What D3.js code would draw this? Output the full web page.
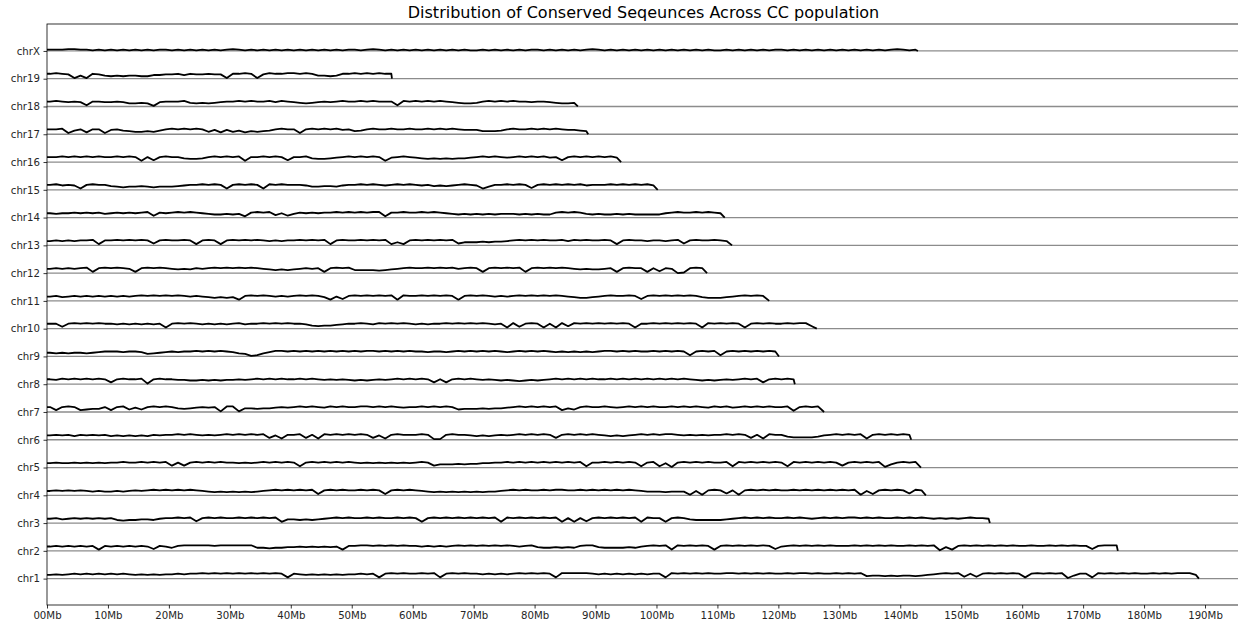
<!DOCTYPE html>
<html>
<head>
<meta charset="utf-8">
<script src="https://cdn.jsdelivr.net/npm/d3@7"></script>
<style>
  body { margin: 0; background: #fff; }
  svg { display: block; }
  text { font-family: "DejaVu Sans", sans-serif; }
</style>
</head>
<body>
<svg id="chart" width="1238" height="627"></svg>
<script>
// Chromosomes, bottom to top
const chromosomes = ["chr1", "chr2", "chr3", "chr4", "chr5", "chr6", "chr7", "chr8", "chr9", "chr10",
  "chr11", "chr12", "chr13", "chr14", "chr15", "chr16", "chr17", "chr18", "chr19", "chrX"];

// Length of each chromosome (Mb), same order
const lengthsMb = [189.0, 175.7, 154.7, 144.2, 143.4, 141.8, 127.5, 122.7, 120.1, 126.3,
  118.5, 108.3, 112.4, 111.2, 100.2, 94.2, 88.8, 87.1, 56.6, 142.9];

// X axis ticks (Mb) and their labels
const xTicks = [0, 10, 20, 30, 40, 50, 60, 70, 80, 90, 100, 110, 120, 130, 140, 150, 160, 170, 180, 190];
const xTickLabels = ["00Mb", "10Mb", "20Mb", "30Mb", "40Mb", "50Mb", "60Mb", "70Mb", "80Mb", "90Mb",
  "100Mb", "110Mb", "120Mb", "130Mb", "140Mb", "150Mb", "160Mb", "170Mb", "180Mb", "190Mb"];

// Conserved share per 1 Mb bin, one digit per bin (0 = none, 9 = all strains), same order
const conservedBins = [
  /* chr1 */ "6767878787 8787676767 7878898989 8989898982 8767676767 7878289898 8989289898 8787878989 8982999998 7878787878 8298989898 8998989898 8989989889 8989455454 5545678989 3838989898 2898989158 8298989898 898989996",
  /* chr2 */ "7878787828 7878787387 5899999899 9999554556 6767676728 8998989898 8787878989 8989898789 6556565899 6555565789 8929898982 8989898983 7898989898 8898989898 8989891628 9898989898 8988989898 838999",
  /* chr3 */ "7867878787 8545566578 8989389898 8989898926 6565678989 8898988989 8289898989 8989298989 8989282838 9898989298 8289865555 5678989898 8989878989 8998989889 8989878787 89887",
  /* chr4 */ "7878787676 6767878989 8989876565 6565678989 8989289898 8989828989 8765656565 6566789898 8989988989 8989898766 6566617189 8381898989 8898989898 9891728989 8398",
  /* chr5 */ "7877878787 8898898989 3838989898 8787898989 8289898989 8787878787 8983555656 6778898989 8989898928 8989898289 2718989898 8929898989 8298989898 3898989158 989",
  /* chr6 */ "7878687878 6767676878 8989878789 8989893728 8938298989 8983728988 8981189887 6767878989 8983898989 8767678989 8998787878 8989838298 8544445789 8989289898 98",
  /* chr7 */ "8389834558 3894748989 8656787819 9166566787 8989879898 8998989878 8989898455 5656678989 8989364898 8987898989 8898989879 8978989898 8928989",
  /* chr8 */ "8798989898 3898891898 8776676767 7878989898 8989878787 6767878989 8983838989 8787676567 6789898989 8898989898 9898987676 7878989389 898",
  /* chr9 */ "6565665678 8878874567 8788989898 7541257998 9898989898 9899898989 8878878989 8989878989 8987878787 8998989889 8989828989 2898989898",
  /* chr10 */ "8838989898 8787878782 8989878787 8978898989 8875455678 8987989898 7878898989 8987829389 8282949898 9898982889 8989898298 9898289898 898994",
  /* chr11 */ "7867878787 8787898989 8987876565 6289898787 8989862738 9898989298 8989898289 8987878989 8989876556 7898898389 8989898655 56789898",
  /* chr12 */ "7878789289 8987289898 7676878989 8989876565 6787828989 5555456789 8898989789 8289898928 9898987676 6782898828 38701898",
  /* chr13 */ "7878788928 8989898389 8898289828 9898987878 8989892898 8989892528 9898989355 5656678989 8988979898 8982898878 878938988987",
  /* chr14 */ "7677878786 7878789387 8989876556 5628989473 6878788989 8989928898 8989876565 6565666565 6558989865 6556565555 57898898987",
  /* chr15 */ "8978728988 6545565455 5678898982 8989829898 8875566578 8989878989 8786767898 7258898983 8989898978 8898989897",
  /* chr16 */ "8898989898 8989828389 8865568989 8928898983 8896556789 8989827898 7656565667 8989878989 8978389898 9897",
  /* chr17 */ "8892683882 7865445468 9898984737 4635456898 8289898978 5689889889 8898989877 7555689889 898987765",
  /* chr18 */ "8987872887 7875565178 8896565678 8989889798 7656787898 8989888298 9898987655 6898989887 8876556",
  /* chr19 */ "8987151875 4545544667 7868778771 8898179889 9898554588 9898988",
  /* chrX */ "2223322121 2121212122 1212121212 3212121212 1212121212 2123212121 2121212121 1212121212 2121212123 2121212121 2121212121 1212121212 2121212121 2121212123 212"
];

const width = 1238, height = 627;
const margin = { top: 24, right: -2, bottom: 22, left: 47 };
const plotBottom = height - margin.bottom;   // 605
const plotRight = width - margin.right;      // spine sits just past the edge

const svg = d3.select("#chart");

const x = d3.scaleLinear().domain([0, 190]).range([margin.left, 1205]);
const y = d3.scaleLinear().domain([0.05, 20.97]).range([plotBottom, margin.top]);
const traceHeight = 0.2;   // row units taken by a fully conserved bin

// Baseline for every chromosome across the whole axis
svg.append("g")
  .selectAll("line")
  .data(chromosomes)
  .join("line")
  .attr("x1", margin.left)
  .attr("x2", plotRight)
  .attr("y1", (d, i) => y(i + 1))
  .attr("y2", (d, i) => y(i + 1))
  .attr("stroke", "#8c8c8c")
  .attr("stroke-width", 1.3);

// Conservation trace per chromosome
const tracks = chromosomes.map((name, i) => {
  const digits = conservedBins[i].replace(/\s/g, "").split("").map(Number);
  const pts = [{ mb: 0, v: digits[0] / 9 }];
  digits.forEach((d, k) => pts.push({ mb: Math.min(k + 0.5, lengthsMb[i]), v: d / 9 }));
  pts.push({ mb: lengthsMb[i], v: 0 });
  return { name, row: i + 1, pts };
});

const line = d3.line();
svg.append("g")
  .selectAll("path")
  .data(tracks)
  .join("path")
  .attr("d", t => line(t.pts.map(p => [x(p.mb), y(t.row + p.v * traceHeight)])))
  .attr("fill", "none")
  .attr("stroke", "#000")
  .attr("stroke-width", 1.8)
  .attr("stroke-linejoin", "round");

// Axes
const xAxis = d3.axisBottom(x)
  .tickValues(xTicks)
  .tickFormat((d, i) => xTickLabels[i])
  .tickSize(3.5)
  .tickPadding(3.5);
const gx = svg.append("g")
  .attr("transform", `translate(0,${plotBottom})`)
  .call(xAxis);

const yAxis = d3.axisLeft(y)
  .tickValues(d3.range(1, chromosomes.length + 1))
  .tickFormat(d => chromosomes[d - 1])
  .tickSize(3.5)
  .tickPadding(3.5);
const gy = svg.append("g")
  .attr("transform", `translate(${margin.left},0)`)
  .call(yAxis);

[gx, gy].forEach(g => {
  g.select(".domain").remove();
  g.selectAll(".tick line").attr("stroke", "#000").attr("stroke-width", 0.8);
  g.selectAll(".tick text").attr("font-size", 10.2).attr("fill", "#262626")
    .attr("font-family", "DejaVu Sans, sans-serif");
});

// Frame
svg.append("rect")
  .attr("x", margin.left)
  .attr("y", margin.top)
  .attr("width", plotRight - margin.left)
  .attr("height", plotBottom - margin.top)
  .attr("fill", "none")
  .attr("stroke", "#000")
  .attr("stroke-width", 0.8);

// Title
svg.append("text")
  .attr("x", (margin.left + plotRight) / 2)
  .attr("y", 18)
  .attr("text-anchor", "middle")
  .attr("font-size", 16)
  .attr("fill", "#000")
  .text("Distribution of Conserved Seqeunces Across CC population");
</script>
</body>
</html>
